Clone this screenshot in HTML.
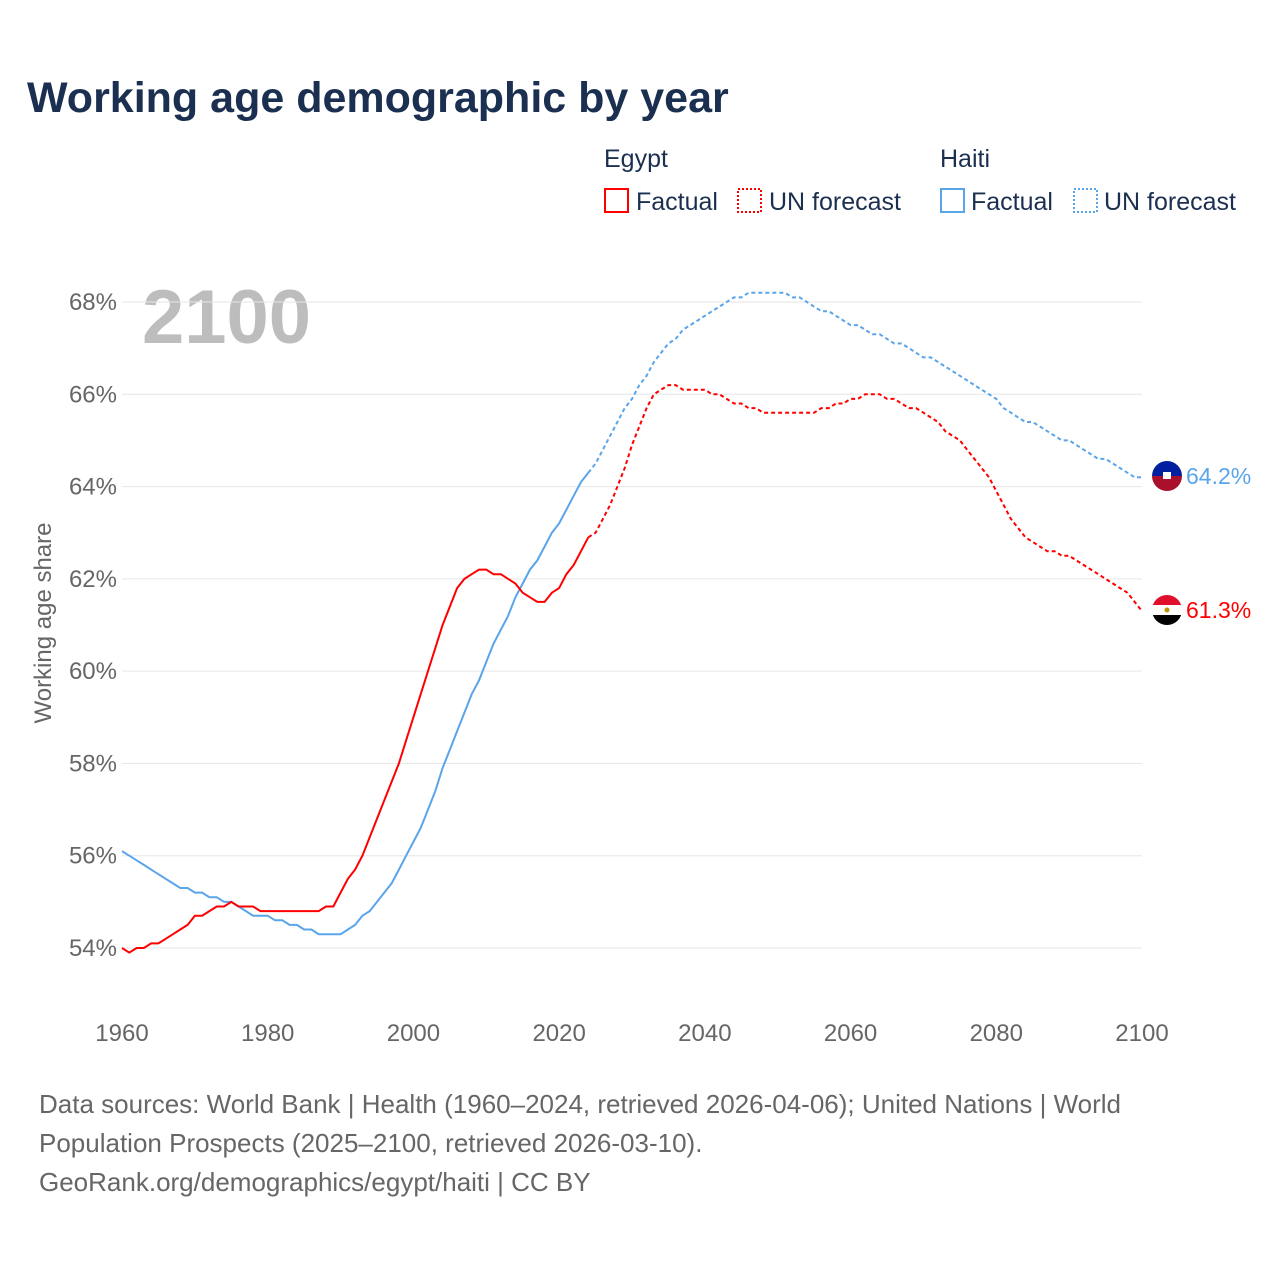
<!DOCTYPE html>
<html><head><meta charset="utf-8">
<style>
body{margin:0;background:#fff;font-family:"Liberation Sans",sans-serif;}
#wrap{position:relative;width:1280px;height:1280px;overflow:hidden;}
</style></head>
<body>
<div id="wrap">
<svg id="chart" width="1280" height="1280">
<text x="27" y="112" font-size="43" font-weight="bold" fill="#1b3050">Working age demographic by year</text>
<g font-size="25" fill="#1b3050">
<text x="604" y="167">Egypt</text>
<text x="940" y="167">Haiti</text>
<g><rect x="605" y="189" width="23" height="23" fill="none" stroke="#f00" stroke-width="2"/><text x="636" y="210">Factual</text></g>
<g><rect x="738" y="189" width="23" height="23" fill="none" stroke="#f00" stroke-width="2" stroke-dasharray="2,2"/><text x="769" y="210">UN forecast</text></g>
<g><rect x="941" y="189" width="23" height="23" fill="none" stroke="#5aa5ea" stroke-width="2"/><text x="971" y="210">Factual</text></g>
<g><rect x="1074" y="189" width="23" height="23" fill="none" stroke="#5aa5ea" stroke-width="2" stroke-dasharray="2,2"/><text x="1104" y="210">UN forecast</text></g>
</g>
<text x="142" y="343" font-size="76" font-weight="bold" fill="#bdbdbd">2100</text>
<g id="grid"></g><g id="yticks"></g><g id="xticks"></g><g id="lines"></g>
<text transform="translate(51,623) rotate(-90)" text-anchor="middle" font-size="24" fill="#666">Working age share</text>
<g>
<clipPath id="ch"><circle cx="1167" cy="476" r="15"/></clipPath>
<g clip-path="url(#ch)"><rect x="1150" y="460" width="34" height="16" fill="#00209f"/><rect x="1150" y="476" width="34" height="16" fill="#a8102c"/><rect x="1163" y="472" width="8" height="7" fill="#fff"/></g></g>
<text x="1186" y="484" font-size="23" fill="#5aa5ea">64.2%</text>
<g>
<clipPath id="ce"><circle cx="1167" cy="610" r="15"/></clipPath>
<g clip-path="url(#ce)"><rect x="1150" y="594" width="34" height="11" fill="#e0102c"/><rect x="1150" y="605" width="34" height="10" fill="#fff"/><rect x="1150" y="615" width="34" height="11" fill="#000"/><circle cx="1167" cy="610" r="2.5" fill="#c09300"/></g></g>
<text x="1186" y="618" font-size="23" fill="#f00">61.3%</text>
<g font-size="26" fill="#666">
<text x="39" y="1113">Data sources: World Bank | Health (1960–2024, retrieved 2026-04-06); United Nations | World</text>
<text x="39" y="1152">Population Prospects (2025–2100, retrieved 2026-03-10).</text>
<text x="39" y="1191">GeoRank.org/demographics/egypt/haiti | CC BY</text>
</g>
</svg>
</div>
<script>
const years=[];for(let y=1960;y<=2100;y++)years.push(y);
const yTickValues=[54,56,58,60,62,64,66,68];
const xTickValues=[1960,1980,2000,2020,2040,2060,2080,2100];
const lastFactualYear=2024;
const egypt=[54.0,53.9,54.0,54.0,54.1,54.1,54.2,54.3,54.4,54.5,54.7,54.7,54.8,54.9,54.9,55.0,54.9,54.9,54.9,54.8,54.8,54.8,54.8,54.8,54.8,54.8,54.8,54.8,54.9,54.9,55.2,55.5,55.7,56.0,56.4,56.8,57.2,57.6,58.0,58.5,59.0,59.5,60.0,60.5,61.0,61.4,61.8,62.0,62.1,62.2,62.2,62.1,62.1,62.0,61.9,61.7,61.6,61.5,61.5,61.7,61.8,62.1,62.3,62.6,62.9,
63.0,63.3,63.6,64.0,64.4,64.9,65.3,65.7,66.0,66.1,66.2,66.2,66.1,66.1,66.1,66.1,66.0,66.0,65.9,65.8,65.8,65.7,65.7,65.6,65.6,65.6,65.6,65.6,65.6,65.6,65.6,65.7,65.7,65.8,65.8,65.9,65.9,66.0,66.0,66.0,65.9,65.9,65.8,65.7,65.7,65.6,65.5,65.4,65.2,65.1,65.0,64.8,64.6,64.4,64.2,63.9,63.6,63.3,63.1,62.9,62.8,62.7,62.6,62.6,62.5,62.5,62.4,62.3,62.2,62.1,62.0,61.9,61.8,61.7,61.5,61.3];
const haiti=[56.1,56.0,55.9,55.8,55.7,55.6,55.5,55.4,55.3,55.3,55.2,55.2,55.1,55.1,55.0,55.0,54.9,54.8,54.7,54.7,54.7,54.6,54.6,54.5,54.5,54.4,54.4,54.3,54.3,54.3,54.3,54.4,54.5,54.7,54.8,55.0,55.2,55.4,55.7,56.0,56.3,56.6,57.0,57.4,57.9,58.3,58.7,59.1,59.5,59.8,60.2,60.6,60.9,61.2,61.6,61.9,62.2,62.4,62.7,63.0,63.2,63.5,63.8,64.1,64.3,
64.5,64.8,65.1,65.4,65.7,65.9,66.2,66.4,66.7,66.9,67.1,67.2,67.4,67.5,67.6,67.7,67.8,67.9,68.0,68.1,68.1,68.2,68.2,68.2,68.2,68.2,68.2,68.1,68.1,68.0,67.9,67.8,67.8,67.7,67.6,67.5,67.5,67.4,67.3,67.3,67.2,67.1,67.1,67.0,66.9,66.8,66.8,66.7,66.6,66.5,66.4,66.3,66.2,66.1,66.0,65.9,65.7,65.6,65.5,65.4,65.4,65.3,65.2,65.1,65.0,65.0,64.9,64.8,64.7,64.6,64.6,64.5,64.4,64.3,64.2,64.2];
const NS='http://www.w3.org/2000/svg';
const X=v=>122+(v-1960)*(1020/140);
const Y=v=>948-(v-54)*(646/14);
function mk(tag,attrs,parent){const e=document.createElementNS(NS,tag);for(const k in attrs)e.setAttribute(k,attrs[k]);parent.appendChild(e);return e;}
const grid=document.getElementById('grid'),yt=document.getElementById('yticks'),xt=document.getElementById('xticks'),ln=document.getElementById('lines');
yTickValues.forEach(v=>{
 const l=mk('line',{x1:122,x2:1142,y1:Y(v),y2:Y(v),stroke:'#e6e6e6','stroke-width':1},grid);
 
 
 const t=mk('text',{x:117,y:Y(v)+8,'text-anchor':'end','font-size':24,fill:'#666'},yt);
 t.textContent=v+'%';
 
 
});
xTickValues.forEach(v=>{
 const t=mk('text',{x:X(v),y:1041,'text-anchor':'middle','font-size':24,fill:'#666'},xt);
 t.textContent=v;
 
 
});
function path(vals,from,to){let d='';years.forEach((yr,i)=>{if(yr>=from&&yr<=to)d+=(d?'L':'M')+X(yr).toFixed(1)+','+Y(vals[i]).toFixed(1);});return d;}
function series(vals,color,name){
 const a=mk('path',{d:path(vals,1960,lastFactualYear),fill:'none',stroke:color,'stroke-width':2},ln);
 
 
 const b=mk('path',{d:path(vals,lastFactualYear,2100),fill:'none',stroke:color,'stroke-width':2,'stroke-dasharray':'4,3'},ln);
 
 
}
series(haiti,'#5aa5ea','haiti');
series(egypt,'#f00','egypt');
</script>
</body></html>
